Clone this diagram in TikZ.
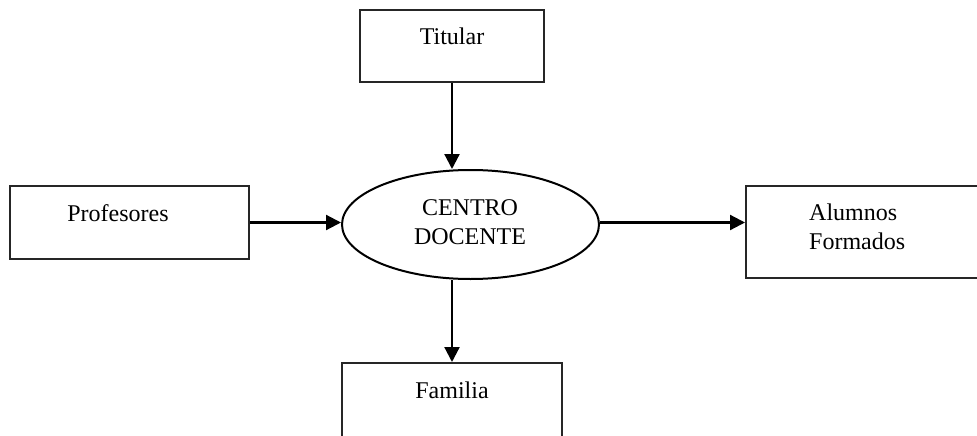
\documentclass[tikz,border=0pt]{standalone}
\usepackage{fontspec}
\setmainfont{Liberation Serif}
\usetikzlibrary{arrows.meta,shapes.geometric}
\begin{document}
\begin{tikzpicture}[x=1pt,y=-1pt,
  box/.style={draw=black!85,line width=2pt,rectangle,inner sep=0pt},
  txt/.style={font=\fontsize{24}{29}\selectfont,inner sep=0pt,align=left},
  flow/.style={line width=2.2pt,-{Triangle[length=15pt,width=15pt]}}]
\useasboundingbox (0,0) rectangle (977,436);
\clip (0,0) rectangle (977,436);
% boxes
\node[box,minimum width=184pt,minimum height=72pt] (tit) at (452,46) {};
\node[box,minimum width=239pt,minimum height=73pt] (prof) at (129.5,222.5) {};
\node[box,minimum width=250pt,minimum height=92pt] (alu) at (871,232) {};
\node[box,minimum width=220pt,minimum height=84pt] (fam) at (452,405) {};
% central process
\node[draw,ellipse,line width=2pt,minimum width=257pt,minimum height=109pt,inner sep=0pt] (ell) at (470.5,224.5) {};
% labels
\node[txt] (tTit) at (452,36) {Titular};
\node[txt] (tProf) at (118,213) {Profesores};
\node[txt,align=center] (tEll) at (470,222) {CENTRO\\DOCENTE};
\node[txt,anchor=west] (tAlu) at (809,227) {Alumnos\\Formados};
\node[txt] (tFam) at (452,390) {Familia};
% connectors
\draw[flow] (tit.south) -- (tit.south |- ell.north);
\draw[flow] (prof.east) -- (prof.east -| ell.west);
\draw[flow] (ell.east |- prof.east) -- (prof.east -| alu.west);
\draw[flow] (fam.north |- ell.south) -- (fam.north);
\end{tikzpicture}
\end{document}
